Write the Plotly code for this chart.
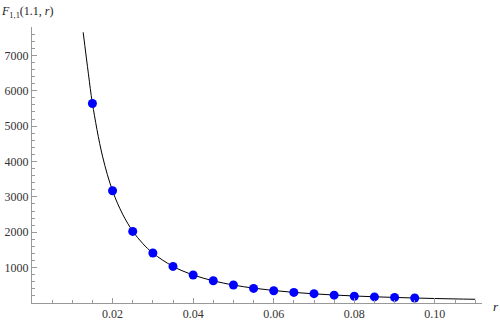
import plotly.graph_objects as go

# sampled points (blue dots)
r_pts = [0.015, 0.02, 0.025, 0.03, 0.035, 0.04, 0.045, 0.05, 0.055, 0.06,
         0.065, 0.07, 0.075, 0.08, 0.085, 0.09, 0.095]
f_pts = [5638, 3172, 2023, 1412, 1034, 791, 630, 508, 413, 347,
         300, 263, 222, 192, 172, 158, 141]

# curve
r_curve = [0.0127, 0.014, 0.015, 0.0175, 0.02, 0.0225, 0.025, 0.0275, 0.03, 0.035,
           0.04, 0.045, 0.05, 0.055, 0.06, 0.065, 0.07, 0.075, 0.08, 0.085,
           0.09, 0.095, 0.10, 0.105, 0.11]
f_curve = [7650, 6480, 5640, 4150, 3170, 2510, 2030, 1680, 1410, 1035,
           793, 627, 508, 420, 353, 300, 259, 226, 198, 176,
           157, 141, 127, 115, 105]

x_ticks = [0.02, 0.04, 0.06, 0.08, 0.10]
x_labels = ["0.02", "0.04", "0.06", "0.08", "0.10"]
y_ticks = [1000, 2000, 3000, 4000, 5000, 6000, 7000]
x_max = 0.1117
y_max = 7800

serif = "Liberation Serif, DejaVu Serif, Times New Roman, serif"
font = dict(family=serif, size=12, color="#333333")
axis_col = "#999999"

fig = go.Figure()
fig.add_trace(go.Scatter(x=r_curve, y=f_curve, mode="lines", line_shape="spline",
                         line=dict(color="black", width=1), hoverinfo="skip"))
fig.add_trace(go.Scatter(x=r_pts, y=f_pts, mode="markers",
                         marker=dict(color="#0000ff", size=9)))

fig.update_xaxes(range=[0, x_max], showgrid=False, zeroline=False, automargin=False,
                 showline=True, linecolor=axis_col, linewidth=1,
                 tickmode="array", tickvals=x_ticks, ticktext=x_labels,
                 ticks="inside", ticklen=5, tickcolor=axis_col, tickfont=font,
                 minor=dict(tickmode="linear", tick0=0, dtick=0.005, ticks="inside",
                            ticklen=3, tickcolor=axis_col, showgrid=False))
fig.update_yaxes(range=[0, y_max], showgrid=False, zeroline=False, automargin=False,
                 showline=True, linecolor=axis_col, linewidth=1,
                 tickmode="array", tickvals=y_ticks,
                 ticks="inside", ticklen=5, tickcolor=axis_col, tickfont=font,
                 minor=dict(tickmode="linear", tick0=0, dtick=200, ticks="inside",
                            ticklen=3, tickcolor=axis_col, showgrid=False))

fig.add_annotation(text="<i>F</i><sub>1,1</sub>(1.1, <i>r</i>)", xref="paper", yref="paper",
                   x=-0.074, y=1.0, xanchor="left", yanchor="bottom", yshift=5,
                   showarrow=False, font=dict(family=serif, size=12, color="#222222"))
fig.add_annotation(text="<i>r</i>", xref="paper", yref="y",
                   x=1.0, y=0, xanchor="left", yanchor="middle", xshift=9, yshift=-3,
                   showarrow=False, font=dict(family=serif, size=13, color="#222222"))

fig.update_layout(width=500, height=321, showlegend=False,
                  margin=dict(l=32, r=18, t=27, b=18),
                  plot_bgcolor="white", paper_bgcolor="white")
# drop the default page margin so the figure sits at the window corner
fig.write_html("out.html", config={"displayModeBar": False},
               post_script="document.body.style.margin='0';")
